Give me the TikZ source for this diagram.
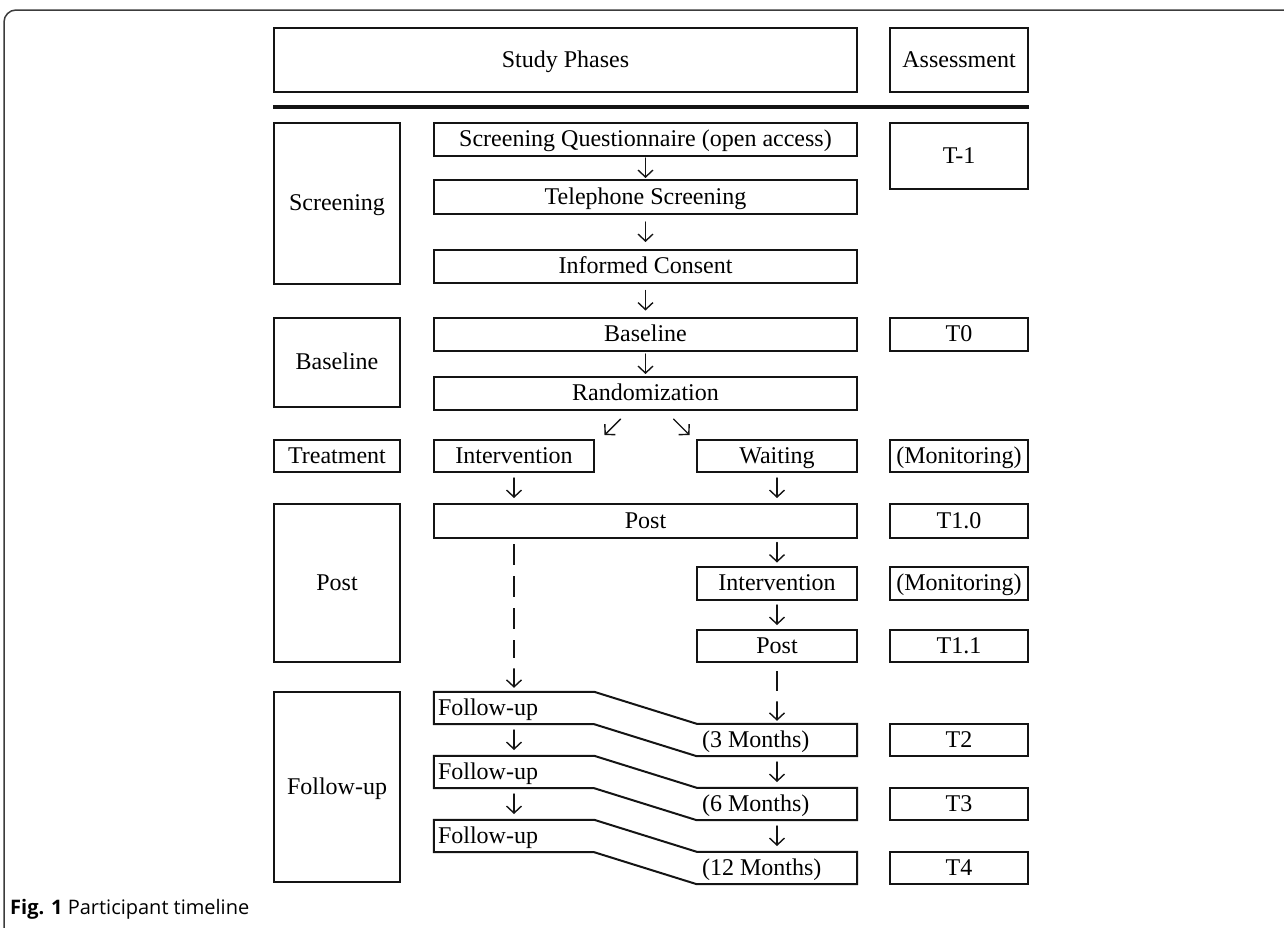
\documentclass[tikz,border=0pt]{standalone}
\usepackage{fontspec}
\setmainfont{Liberation Serif}
\newfontfamily\capfont{Open Sans}
\usepackage{tikz}
\usetikzlibrary{arrows.meta,calc}
\definecolor{tlblack}{RGB}{20,20,20}
\definecolor{tlframe}{RGB}{60,60,60}

% short glyph-like arrow between two boxes, on the vertical through #1
\newcommand{\vlink}[3]{%
  \draw[arr] ($(#2.south -| #1)!.5!(#3.north -| #1)$) +(0,-10) -- +(0,10);}

\begin{document}
\begin{tikzpicture}[x=1pt, y=-1pt, line cap=round, line join=miter,
    font=\fontsize{24}{28}\selectfont,
    box/.style={draw=tlblack, line width=2pt, inner sep=0pt, minimum height=33,
      text height=18pt, text depth=4pt},
    phase/.style={box, minimum width=126},
    main/.style={box, minimum width=423},
    half/.style={box, minimum width=160},
    assess/.style={box, minimum width=138},
    part/.style={inner sep=0pt, minimum width=160, minimum height=32},
    lbl/.style={anchor=west, inner sep=0pt, text height=18pt, text depth=4pt},
    arr/.style={tlblack, line width=1.4pt, -{Straight Barb[length=7pt,width=15pt,line width=1.4pt]}},
    dashline/.style={tlblack, line width=1.8pt, line cap=butt, dash pattern=on 21pt off 11pt}]
   \path[use as bounding box] (0,0) rectangle (1284,927);

   % outer frame and caption
   \draw[tlframe, line width=1.5pt, rounded corners=12pt] (4,940) -- (4,10) -- (1300,10);
   \node[anchor=base west, inner sep=0pt, font=\capfont\fontsize{20}{24}\selectfont] (cap) at (10,914)
      {\textbf{Fig. 1} Participant timeline};

   % header
   \node[box, minimum width=583, minimum height=64] (hdrphase) at (565.5,60) {Study Phases};
   \node[assess, minimum height=64] (hdrassess) at (959,60) {Assessment};
   \draw[tlblack, line width=3.5pt, line cap=butt] (hdrphase.south west |- 0,107) -- (hdrassess.south east |- 0,107);

   % screening
   \node[phase, minimum height=161] (phscreen) at (337,203.5) {Screening};
   \node[main] (quest) at (645.5,139.5) {Screening Questionnaire (open access)};
   \node[main, minimum height=34] (phone) at (645.5,197) {Telephone Screening};
   \node[main] (consent) at (645.5,266.5) {Informed Consent};
   \node[assess, minimum height=66] (tm1) at (959,156) {T-1};

   % baseline
   \node[phase, minimum height=89] (phbase) at (337,362.5) {Baseline};
   \node[main] (base) at (645.5,334.5) {Baseline};
   \node[main] (rand) at (645.5,393.5) {Randomization};
   \node[assess] (t0) at (959,334.5) {T0};

   % treatment
   \node[phase, minimum height=32] (phtreat) at (337,456) {Treatment};
   \node[half, minimum height=32] (interv) at (514,456) {Intervention};
   \node[half, minimum height=32] (wait) at (777,456) {Waiting};
   \node[assess, minimum height=32] (mona) at (959,456) {(Monitoring)};

   % post
   \node[phase, minimum height=158] (phpost) at (337,583) {Post};
   \node[main, minimum height=34] (post) at (645.5,521) {Post};
   \node[half] (interv2) at (777,583.5) {Intervention};
   \node[half, minimum height=32] (post2) at (777,646) {Post};
   \node[assess, minimum height=34] (t10) at (959,521) {T1.0};
   \node[assess] (monb) at (959,583.5) {(Monitoring)};
   \node[assess, minimum height=32] (t11) at (959,646) {T1.1};

   % follow-up
   \node[phase, minimum height=190] (phfollow) at (337,787) {Follow-up};
   \foreach \i/\m/\t in {1/3/T2, 2/6/T3, 3/12/T4}{
      \node[part] (ful\i) at (514,{692+64*(\i-1)+16}) {};
      \node[part] (fur\i) at (777,{692+64*(\i-1)+48}) {};
      \draw[tlblack, line width=2pt] (ful\i.north west) -- (ful\i.north east) -- (fur\i.north west)
         -- (fur\i.north east) -- (fur\i.south east) -- (fur\i.south west) -- (ful\i.south east)
         -- (ful\i.south west) -- cycle;
      \node[lbl] at ([xshift=4pt]ful\i.west) {Follow-up};
      \node[lbl] at ([xshift=5pt]fur\i.west) {(\m{} Months)};
      \node[assess, minimum height=32] (tf\i) at (959,{692+64*(\i-1)+48}) {\t};
   }

   % connectors
   \vlink{quest}{quest}{phone}
   \vlink{phone}{phone}{consent}
   \vlink{consent}{consent}{base}
   \vlink{base}{base}{rand}
   \draw[arr] ([xshift=-25pt, yshift=-8pt]rand.south) -- ++(-16,16);
   \draw[arr] ([xshift=28pt, yshift=-8pt]rand.south) -- ++(16,16);
   \vlink{interv}{interv}{post}
   \vlink{wait}{wait}{post}
   \vlink{interv2}{post}{interv2}
   \vlink{post2}{interv2}{post2}
   \draw[dashline] ([yshift=-5pt]post.south -| interv) -- ([yshift=34pt]ful1.north);
   \draw[arr] ([yshift=23pt]ful1.north) -- ([yshift=4pt]ful1.north);
   \draw[tlblack, line width=1.8pt, line cap=butt] ([yshift=-8pt]post2.south) -- ++(0,20);
   \draw[arr] ([yshift=22pt]fur1.north) -- ([yshift=3pt]fur1.north);
   \vlink{ful1}{ful1}{ful2}
   \vlink{ful2}{ful2}{ful3}
   \vlink{fur1}{fur1}{fur2}
   \vlink{fur2}{fur2}{fur3}

\end{tikzpicture}
\end{document}
